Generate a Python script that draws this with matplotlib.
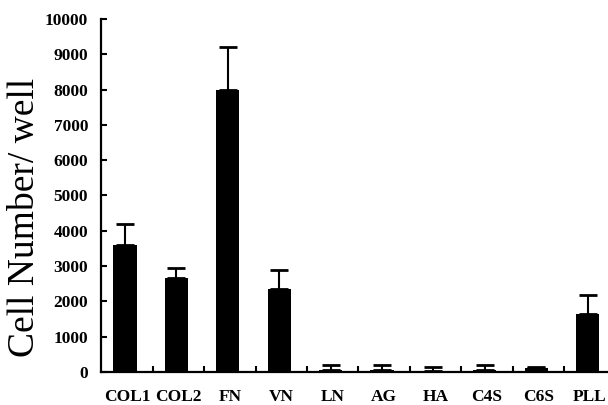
import matplotlib
matplotlib.use('Agg')
import matplotlib.pyplot as plt
import numpy as np

# substrate coatings and cell counts
coatings = ['COL1', 'COL2', 'FN', 'VN', 'LN', 'AG', 'HA', 'C4S', 'C6S', 'PLL']
cells = [3600, 2650, 8000, 2350, 70, 70, 20, 70, 100, 1640]
err_up = [600, 300, 1200, 530, 140, 140, 110, 140, 40, 540]
yticks = list(range(0, 10001, 1000))

W, H = 608, 405
fig = plt.figure(figsize=(W / 100, H / 100), dpi=100)
# axes runs off the right edge like in the original
ax = fig.add_axes([101.3 / W, 33 / H, 514 / W, 353 / H])

x = np.arange(1, len(coatings) + 1)
ax.bar(x - 0.04, cells, width=0.45, color='black', zorder=2)
ax.errorbar(x - 0.04, cells, yerr=[np.zeros(len(cells)), err_up], fmt='none',
            ecolor='black', elinewidth=1.5, capsize=6.7, capthick=2, zorder=3)

ax.set_xlim(0.5, 10.5)
ax.set_ylim(0, 10000)
for s in ['top', 'right']:
    ax.spines[s].set_visible(False)
for s in ['left', 'bottom']:
    ax.spines[s].set_linewidth(1.6)

serif_b = dict(family='Liberation Serif', weight='bold', size=12.5)
ax.set_yticks(yticks)
ax.set_yticklabels([str(v) for v in yticks], fontdict=serif_b)
ax.tick_params(axis='y', direction='in', length=4, width=1.5, pad=9.5)

ax.set_xticks(x)
ax.set_xticklabels(coatings, fontdict=serif_b)
ax.tick_params(axis='x', which='major', length=0, pad=12)
ax.set_xticks(x[:-1] + 0.5, minor=True)
ax.tick_params(axis='x', which='minor', direction='in', length=4, width=1.5)

ax.set_ylabel('Cell Number/ well', family='Liberation Serif', fontsize=27, va='center')
ax.yaxis.set_label_coords(25 / W, 1 - 217 / H, transform=fig.transFigure)

fig.savefig('out.png', dpi=100)
